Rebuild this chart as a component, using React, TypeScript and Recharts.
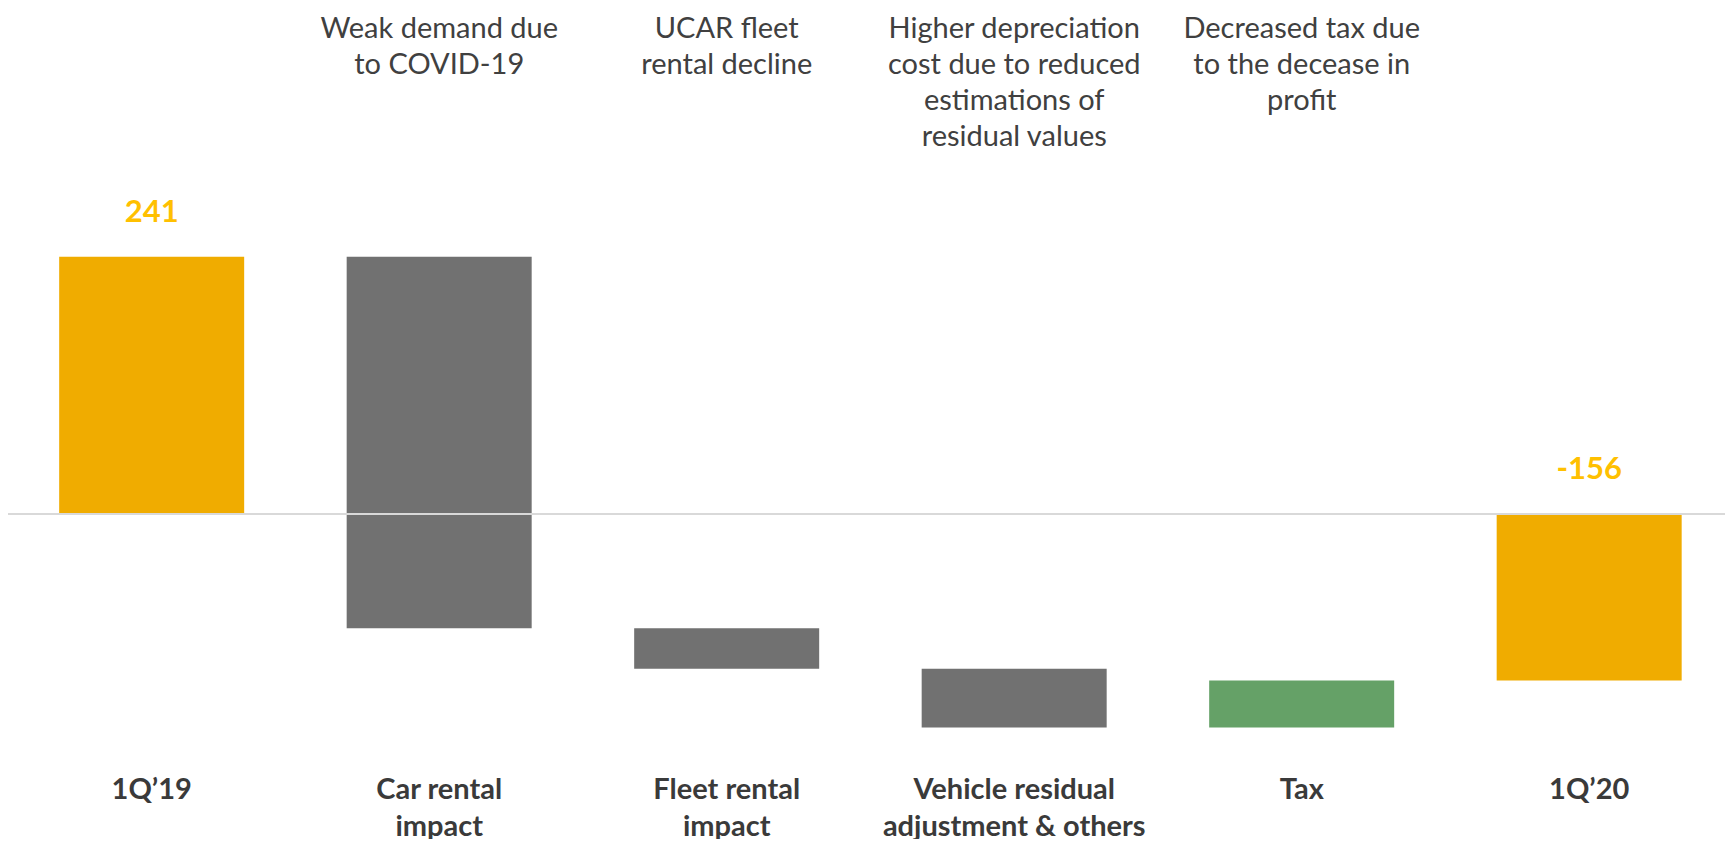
import { Bar, BarChart, Cell, LabelList, ReferenceLine, XAxis, YAxis } from "recharts";

// categories (line breaks as in the slide)
const categories = [
  "1Q’19",
  "Car rental\nimpact",
  "Fleet rental\nimpact",
  "Vehicle residual\nadjustment & others",
  "Tax",
  "1Q’20",
];

const notes = [
  "",
  "Weak demand due\nto COVID-19",
  "UCAR fleet\nrental decline",
  "Higher depreciation\ncost due to reduced\nestimations of\nresidual values",
  "Decreased tax due\nto the decease in\nprofit",
  "",
];

const steps = [241, -348, -38, -55, 44, -156];
const isTotal = [true, false, false, false, false, true];

const FONT = "Lato, 'Open Sans', sans-serif";
const GOLD = "#F0AC00";
const GRAY = "#717171";
const GREEN = "#65A167";

let running = 0;
const rows = categories.map((name, i) => {
  const v = steps[i];
  let lo: number;
  let hi: number;
  if (isTotal[i]) {
    lo = Math.min(0, v);
    hi = Math.max(0, v);
    running = v;
  } else {
    const end = running + v;
    lo = Math.min(running, end);
    hi = Math.max(running, end);
    running = end;
  }
  return {
    name,
    range: [lo, hi],
    label: isTotal[i] ? String(v) : undefined,
    color: isTotal[i] ? GOLD : v < 0 ? GRAY : GREEN,
  };
});

const BottomTick = (props: any) => {
  const { x, payload } = props;
  const lines = categories[payload.index].split("\n");
  return (
    <text x={x} y={791} textAnchor="middle" fontFamily={FONT} fontWeight={700} fontSize={29} fill="#3a3a3a">
      {lines.map((l, i) => (
        <tspan key={i} x={x} dy={i === 0 ? 0 : 37}>
          {l}
        </tspan>
      ))}
    </text>
  );
};

const TopTick = (props: any) => {
  const { x, payload } = props;
  const lines = notes[payload.index].split("\n");
  return (
    <text x={x} y={30} textAnchor="middle" fontFamily={FONT} fontSize={29} fill="#404040">
      {lines.map((l, i) => (
        <tspan key={i} x={x} dy={i === 0 ? 0 : 36}>
          {l}
        </tspan>
      ))}
    </text>
  );
};

const ValueLabel = (props: any) => {
  const { x, y, width, value } = props;
  if (value === undefined || value === null) return null;
  return (
    <text x={x + width / 2} y={y - 35} textAnchor="middle" fontFamily={FONT} fontWeight={700} fontSize={31} fill="#FFC000">
      {value}
    </text>
  );
};

export default function App() {
  // taller than the page's inner area so descenders of the bottom labels fit;
  // the negative margin cancels the body's bottom margin so nothing scrolls
  return (
    <div style={{ width: 1725, height: 839, marginBottom: -8 }}>
      <BarChart
        width={1725}
        height={839}
        data={rows}
        margin={{ top: 0, right: 0, bottom: 0, left: 0 }}
        barCategoryGap="17.8%"
      >
        <XAxis dataKey="name" height={97} axisLine={false} tickLine={false} tick={<BottomTick />} interval={0} />
        <XAxis
          xAxisId="top"
          dataKey="name"
          orientation="top"
          height={160}
          axisLine={false}
          tickLine={false}
          tick={<TopTick />}
          interval={0}
        />
        <YAxis hide width={0} type="number" domain={[-221, 324]} />
        <ReferenceLine y={0} stroke="#d9d9d9" strokeWidth={2} />
        <Bar dataKey="range" isAnimationActive={false}>
          {rows.map((r, i) => (
            <Cell key={i} fill={r.color} />
          ))}
          <LabelList dataKey="label" content={<ValueLabel />} />
        </Bar>
      </BarChart>
    </div>
  );
}
